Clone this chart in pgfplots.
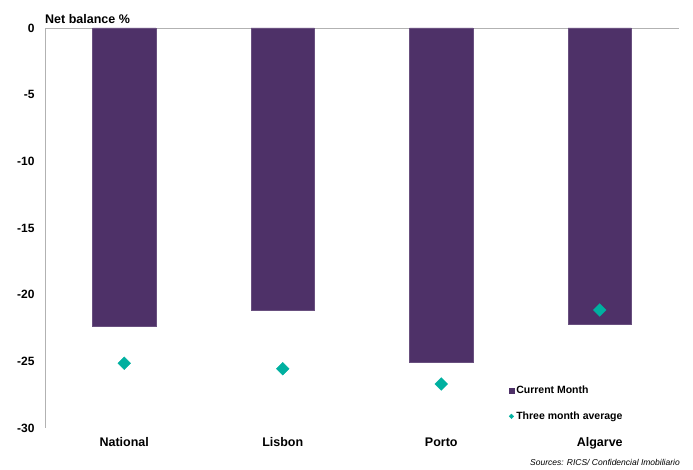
\documentclass[border=0pt]{standalone}
\usepackage{pgfplots}
\pgfplotsset{compat=1.18}
\usepackage{fontspec}
\setmainfont{Liberation Sans}
\definecolor{barpurple}{HTML}{4E3168}
\definecolor{dteal}{HTML}{00B0A0}
\begin{document}
\begin{tikzpicture}
\path[use as bounding box] (-45pt,-42pt) rectangle (648pt,428pt);
\begin{axis}[
  name=ax,
  at={(0,0)}, anchor=south west,
  scale only axis,
  width=634pt, height=400pt,
  xmin=-0.5, xmax=3.5,
  ymin=-30, ymax=0,
  ytick={0,-5,-10,-15,-20,-25,-30},
  xtick={0,1,2,3},
  xticklabels={National,Lisbon,Porto,Algarve},
  major tick length=0pt,
  axis line style={draw=none},
  /pgf/number format/assume math mode=true,
  yticklabel style={font=\bfseries\fontsize{12}{14}\selectfont, xshift=-7pt},
  xticklabel style={font=\bfseries\fontsize{12.5}{15}\selectfont, yshift=-6pt},
  legend style={draw=none, fill=none, at={(0.731,0.11)}, anchor=north west,
    font=\bfseries\fontsize{10.5}{12}\selectfont, row sep=12.5pt, inner sep=0pt,
    legend cell align=left, nodes={inner xsep=2pt}},
  clip=false,
]
\draw[gray!60, line width=0.8pt] (rel axis cs:0,0) -- (rel axis cs:0,1) -- (rel axis cs:1,1);
\addplot[ybar, bar width=0.4, fill=barpurple, draw=barpurple!85!white,
  legend image code/.code={\fill[barpurple] (0pt,-2.6pt) rectangle (5.2pt,2.6pt);}]
  coordinates {(0,-22.4) (1,-21.2) (2,-25.05) (3,-22.25)};
\addlegendentry{Current Month}
\addplot[only marks, mark=square*, mark size=4.5pt, color=dteal,
  every mark/.append style={rotate=45},
  legend image code/.code={\fill[dteal] (2.6pt,-2.3pt) -- (4.9pt,0pt) -- (2.6pt,2.3pt) -- (0.3pt,0pt) -- cycle;}]
  coordinates {(0,-25.15) (1,-25.55) (2,-26.7) (3,-21.15)};
\addlegendentry{Three month average}
\node[anchor=base west, inner sep=0pt, font=\bfseries\fontsize{12.5}{15}\selectfont] at ([yshift=4pt]rel axis cs:0,1) {Net balance \%};
\end{axis}
\node[anchor=base east, inner sep=0pt, font=\itshape\fontsize{8.5}{10}\selectfont] at (635pt,-38pt) {Sources: RICS/ Confidencial Imobiliario};
\end{tikzpicture}
\end{document}
